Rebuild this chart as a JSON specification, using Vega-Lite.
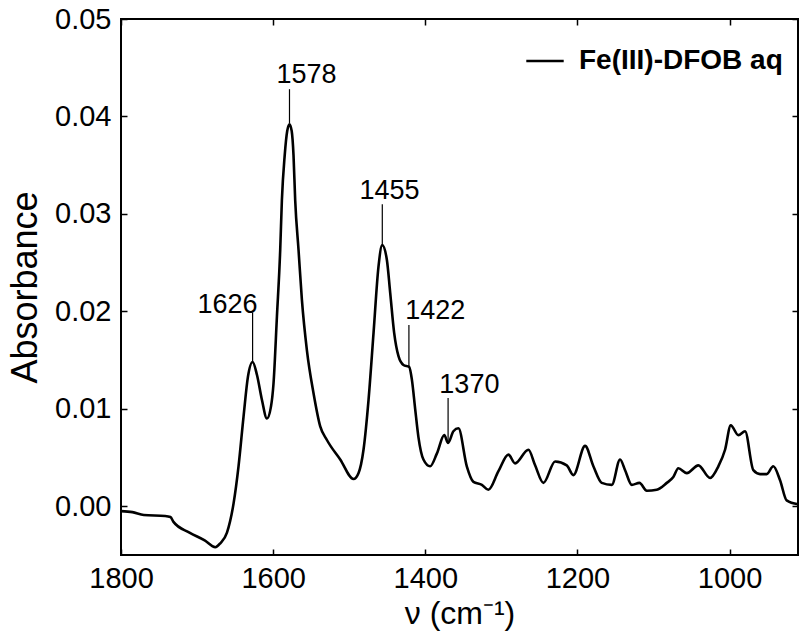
{
  "$schema": "https://vega.github.io/schema/vega-lite/v6.json",
  "width": 677,
  "height": 536,
  "autosize": {"type": "none"},
  "padding": {"left": 121, "top": 19, "right": 1, "bottom": 78},
  "background": "white",
  "config": {
    "font": "Liberation Sans",
    "view": {"stroke": "black", "strokeWidth": 2},
    "axis": {"grid": false, "domain": false, "tickColor": "black", "labelColor": "black", "titleColor": "black", "labelFont": "Liberation Sans", "titleFont": "Liberation Sans", "titleFontWeight": "normal"}
  },
  "datasets": {
    "spectrum": [
      {"wn": 1800, "A": -0.0005, "series": "Fe(III)-DFOB aq"},
      {"wn": 1785, "A": -0.0006, "series": "Fe(III)-DFOB aq"},
      {"wn": 1770, "A": -0.0009, "series": "Fe(III)-DFOB aq"},
      {"wn": 1742, "A": -0.0010, "series": "Fe(III)-DFOB aq"},
      {"wn": 1735, "A": -0.0011, "series": "Fe(III)-DFOB aq"},
      {"wn": 1731, "A": -0.0016, "series": "Fe(III)-DFOB aq"},
      {"wn": 1710, "A": -0.0027, "series": "Fe(III)-DFOB aq"},
      {"wn": 1690, "A": -0.0035, "series": "Fe(III)-DFOB aq"},
      {"wn": 1676, "A": -0.0042, "series": "Fe(III)-DFOB aq"},
      {"wn": 1669.5, "A": -0.0038, "series": "Fe(III)-DFOB aq"},
      {"wn": 1660.7, "A": -0.0027, "series": "Fe(III)-DFOB aq"},
      {"wn": 1652, "A": 0.0003, "series": "Fe(III)-DFOB aq"},
      {"wn": 1645.5, "A": 0.0041, "series": "Fe(III)-DFOB aq"},
      {"wn": 1638.9, "A": 0.0092, "series": "Fe(III)-DFOB aq"},
      {"wn": 1633.1, "A": 0.0133, "series": "Fe(III)-DFOB aq"},
      {"wn": 1627, "A": 0.0148, "series": "Fe(III)-DFOB aq"},
      {"wn": 1621.3, "A": 0.0135, "series": "Fe(III)-DFOB aq"},
      {"wn": 1614.7, "A": 0.0109, "series": "Fe(III)-DFOB aq"},
      {"wn": 1608.2, "A": 0.0090, "series": "Fe(III)-DFOB aq"},
      {"wn": 1602.9, "A": 0.0102, "series": "Fe(III)-DFOB aq"},
      {"wn": 1599.5, "A": 0.0126, "series": "Fe(III)-DFOB aq"},
      {"wn": 1595, "A": 0.0195, "series": "Fe(III)-DFOB aq"},
      {"wn": 1590.7, "A": 0.0263, "series": "Fe(III)-DFOB aq"},
      {"wn": 1588.5, "A": 0.0314, "series": "Fe(III)-DFOB aq"},
      {"wn": 1584.8, "A": 0.0360, "series": "Fe(III)-DFOB aq"},
      {"wn": 1581.5, "A": 0.0385, "series": "Fe(III)-DFOB aq"},
      {"wn": 1578.5, "A": 0.0392, "series": "Fe(III)-DFOB aq"},
      {"wn": 1575.6, "A": 0.0385, "series": "Fe(III)-DFOB aq"},
      {"wn": 1573.2, "A": 0.0360, "series": "Fe(III)-DFOB aq"},
      {"wn": 1571, "A": 0.0314, "series": "Fe(III)-DFOB aq"},
      {"wn": 1566.6, "A": 0.0263, "series": "Fe(III)-DFOB aq"},
      {"wn": 1562.2, "A": 0.0212, "series": "Fe(III)-DFOB aq"},
      {"wn": 1555.6, "A": 0.0160, "series": "Fe(III)-DFOB aq"},
      {"wn": 1546.9, "A": 0.0116, "series": "Fe(III)-DFOB aq"},
      {"wn": 1538.1, "A": 0.0082, "series": "Fe(III)-DFOB aq"},
      {"wn": 1529.3, "A": 0.0068, "series": "Fe(III)-DFOB aq"},
      {"wn": 1511.8, "A": 0.0048, "series": "Fe(III)-DFOB aq"},
      {"wn": 1494.4, "A": 0.0028, "series": "Fe(III)-DFOB aq"},
      {"wn": 1487.8, "A": 0.0034, "series": "Fe(III)-DFOB aq"},
      {"wn": 1481.2, "A": 0.0058, "series": "Fe(III)-DFOB aq"},
      {"wn": 1474.6, "A": 0.0109, "series": "Fe(III)-DFOB aq"},
      {"wn": 1468, "A": 0.0178, "series": "Fe(III)-DFOB aq"},
      {"wn": 1461.5, "A": 0.0246, "series": "Fe(III)-DFOB aq"},
      {"wn": 1456.6, "A": 0.0268, "series": "Fe(III)-DFOB aq"},
      {"wn": 1450.5, "A": 0.0253, "series": "Fe(III)-DFOB aq"},
      {"wn": 1446.1, "A": 0.0219, "series": "Fe(III)-DFOB aq"},
      {"wn": 1440.9, "A": 0.0178, "series": "Fe(III)-DFOB aq"},
      {"wn": 1435.2, "A": 0.0154, "series": "Fe(III)-DFOB aq"},
      {"wn": 1428.7, "A": 0.0145, "series": "Fe(III)-DFOB aq"},
      {"wn": 1421.2, "A": 0.0143, "series": "Fe(III)-DFOB aq"},
      {"wn": 1417.6, "A": 0.0130, "series": "Fe(III)-DFOB aq"},
      {"wn": 1413.3, "A": 0.0100, "series": "Fe(III)-DFOB aq"},
      {"wn": 1409, "A": 0.0071, "series": "Fe(III)-DFOB aq"},
      {"wn": 1402.4, "A": 0.0048, "series": "Fe(III)-DFOB aq"},
      {"wn": 1393.6, "A": 0.0041, "series": "Fe(III)-DFOB aq"},
      {"wn": 1384.8, "A": 0.0054, "series": "Fe(III)-DFOB aq"},
      {"wn": 1375, "A": 0.0073, "series": "Fe(III)-DFOB aq"},
      {"wn": 1370, "A": 0.0065, "series": "Fe(III)-DFOB aq"},
      {"wn": 1363, "A": 0.0077, "series": "Fe(III)-DFOB aq"},
      {"wn": 1356.4, "A": 0.0080, "series": "Fe(III)-DFOB aq"},
      {"wn": 1345.4, "A": 0.0041, "series": "Fe(III)-DFOB aq"},
      {"wn": 1336.7, "A": 0.0025, "series": "Fe(III)-DFOB aq"},
      {"wn": 1325.6, "A": 0.0022, "series": "Fe(III)-DFOB aq"},
      {"wn": 1317, "A": 0.0017, "series": "Fe(III)-DFOB aq"},
      {"wn": 1303.8, "A": 0.0036, "series": "Fe(III)-DFOB aq"},
      {"wn": 1290.7, "A": 0.0053, "series": "Fe(III)-DFOB aq"},
      {"wn": 1281.9, "A": 0.0044, "series": "Fe(III)-DFOB aq"},
      {"wn": 1264.4, "A": 0.0058, "series": "Fe(III)-DFOB aq"},
      {"wn": 1255.6, "A": 0.0042, "series": "Fe(III)-DFOB aq"},
      {"wn": 1244.7, "A": 0.0024, "series": "Fe(III)-DFOB aq"},
      {"wn": 1229.3, "A": 0.0046, "series": "Fe(III)-DFOB aq"},
      {"wn": 1214, "A": 0.0042, "series": "Fe(III)-DFOB aq"},
      {"wn": 1205.3, "A": 0.0032, "series": "Fe(III)-DFOB aq"},
      {"wn": 1189.9, "A": 0.0062, "series": "Fe(III)-DFOB aq"},
      {"wn": 1179, "A": 0.0041, "series": "Fe(III)-DFOB aq"},
      {"wn": 1168, "A": 0.0024, "series": "Fe(III)-DFOB aq"},
      {"wn": 1154.8, "A": 0.0022, "series": "Fe(III)-DFOB aq"},
      {"wn": 1143.9, "A": 0.0048, "series": "Fe(III)-DFOB aq"},
      {"wn": 1137.3, "A": 0.0037, "series": "Fe(III)-DFOB aq"},
      {"wn": 1128.5, "A": 0.0022, "series": "Fe(III)-DFOB aq"},
      {"wn": 1118.5, "A": 0.0024, "series": "Fe(III)-DFOB aq"},
      {"wn": 1108.8, "A": 0.0016, "series": "Fe(III)-DFOB aq"},
      {"wn": 1095.7, "A": 0.0017, "series": "Fe(III)-DFOB aq"},
      {"wn": 1082.5, "A": 0.0024, "series": "Fe(III)-DFOB aq"},
      {"wn": 1073.9, "A": 0.0030, "series": "Fe(III)-DFOB aq"},
      {"wn": 1067.3, "A": 0.0039, "series": "Fe(III)-DFOB aq"},
      {"wn": 1056.2, "A": 0.0034, "series": "Fe(III)-DFOB aq"},
      {"wn": 1041, "A": 0.0042, "series": "Fe(III)-DFOB aq"},
      {"wn": 1025.6, "A": 0.0029, "series": "Fe(III)-DFOB aq"},
      {"wn": 1014.7, "A": 0.0041, "series": "Fe(III)-DFOB aq"},
      {"wn": 1005.9, "A": 0.0058, "series": "Fe(III)-DFOB aq"},
      {"wn": 998.4, "A": 0.0083, "series": "Fe(III)-DFOB aq"},
      {"wn": 988.4, "A": 0.0073, "series": "Fe(III)-DFOB aq"},
      {"wn": 979.6, "A": 0.0077, "series": "Fe(III)-DFOB aq"},
      {"wn": 968.7, "A": 0.0037, "series": "Fe(III)-DFOB aq"},
      {"wn": 959.9, "A": 0.0033, "series": "Fe(III)-DFOB aq"},
      {"wn": 951.1, "A": 0.0033, "series": "Fe(III)-DFOB aq"},
      {"wn": 942.5, "A": 0.0041, "series": "Fe(III)-DFOB aq"},
      {"wn": 933.7, "A": 0.0027, "series": "Fe(III)-DFOB aq"},
      {"wn": 924.9, "A": 0.0006, "series": "Fe(III)-DFOB aq"},
      {"wn": 910, "A": 0.0002, "series": "Fe(III)-DFOB aq"}
    ],
    "peaks": [
      {"label": "1626", "x": 1627, "y0": 0.0149, "y1": 0.0199, "lx": 1660, "ly": 0.0207},
      {"label": "1578", "x": 1578.5, "y0": 0.0393, "y1": 0.0428, "lx": 1556, "ly": 0.0443},
      {"label": "1455", "x": 1456.5, "y0": 0.0269, "y1": 0.0310, "lx": 1447, "ly": 0.0323},
      {"label": "1422", "x": 1421.5, "y0": 0.0144, "y1": 0.0186, "lx": 1387, "ly": 0.0200},
      {"label": "1370", "x": 1370, "y0": 0.0066, "y1": 0.0111, "lx": 1342, "ly": 0.0124}
    ]
  },
  "layer": [
    {
      "data": {"name": "spectrum"},
      "mark": {"type": "line", "strokeWidth": 2.6, "strokeJoin": "round", "interpolate": "monotone"},
      "encoding": {
        "x": {"field": "wn", "type": "quantitative", "scale": {"domain": [1800, 910], "nice": false, "zero": false},
              "axis": {"orient": "bottom", "values": [1800, 1600, 1400, 1200, 1000], "format": "d", "title": "ν (cm⁻¹)", "labelFontSize": 29, "titleFontSize": 32, "tickSize": -6, "tickWidth": 1.5, "labelPadding": 15, "titlePadding": 5, "labelFlush": false}},
        "y": {"field": "A", "type": "quantitative", "scale": {"domain": [-0.005, 0.05], "nice": false, "zero": false},
              "axis": {"orient": "left", "values": [0, 0.01, 0.02, 0.03, 0.04, 0.05], "format": ".2f", "title": "Absorbance", "labelFontSize": 29, "titleFontSize": 36, "tickSize": -6, "tickWidth": 1.5, "labelPadding": 16, "titlePadding": 10, "labelFlush": false}},
        "color": {"field": "series", "type": "nominal", "scale": {"range": ["black"]},
                  "legend": {"title": null, "orient": "none", "legendX": 404, "legendY": 22, "symbolType": "stroke", "symbolSize": 1400, "symbolStrokeWidth": 2.5, "labelFontSize": 28, "labelFontWeight": "bold", "labelColor": "black", "labelOffset": 14, "labelLimit": 0, "labelFont": "Liberation Sans"}}
      }
    },
    {
      "data": {"name": "spectrum"},
      "mark": {"type": "point", "opacity": 0},
      "encoding": {
        "x": {"field": "wn", "type": "quantitative", "axis": {"orient": "top", "values": [1800, 1600, 1400, 1200, 1000], "labels": false, "title": null, "tickSize": -6, "tickWidth": 1.5}},
        "y": {"field": "A", "type": "quantitative", "axis": {"orient": "right", "values": [0, 0.01, 0.02, 0.03, 0.04, 0.05], "labels": false, "title": null, "tickSize": -6, "tickWidth": 1.5}}
      }
    },
    {
      "data": {"name": "peaks"},
      "mark": {"type": "rule", "strokeWidth": 1.2, "color": "black"},
      "encoding": {
        "x": {"field": "x", "type": "quantitative", "axis": null},
        "y": {"field": "y0", "type": "quantitative", "axis": null},
        "y2": {"field": "y1"}
      }
    },
    {
      "data": {"name": "peaks"},
      "mark": {"type": "text", "fontSize": 27, "font": "Liberation Sans", "align": "center", "baseline": "middle", "color": "black"},
      "encoding": {
        "x": {"field": "lx", "type": "quantitative", "axis": null},
        "y": {"field": "ly", "type": "quantitative", "axis": null},
        "text": {"field": "label"}
      }
    }
  ],
  "resolve": {"axis": {"x": "independent", "y": "independent"}}
}
